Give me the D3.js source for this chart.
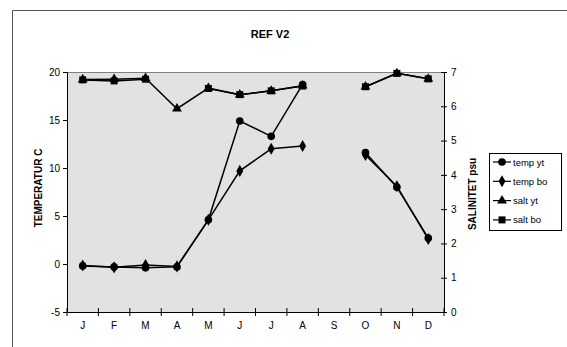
<!DOCTYPE html>
<html><head><meta charset="utf-8">
<script src="https://cdn.jsdelivr.net/npm/d3@7"></script>
<style>body{margin:0;background:#fff}svg{display:block;font-family:"Liberation Sans",Arial,sans-serif}</style>
</head><body><svg id="c" width="567" height="347"></svg>
<script>
const months = ["J","F","M","A","M","J","J","A","S","O","N","D"];
const tempYt = [-0.2,-0.3,-0.4,-0.3,4.6,14.9,13.3,18.7,null,11.6,8.0,2.7];
const tempBo = [-0.15,-0.35,-0.1,-0.25,4.6,9.7,12.0,12.3,null,11.35,8.1,2.6];
const saltYt = [6.78,6.79,6.82,5.93,6.53,6.34,6.45,6.6,null,6.57,6.96,6.8];
const saltBo = [6.77,6.74,6.79,null,6.52,6.34,6.45,6.59,null,6.57,6.96,6.8];
const leftTicks = [-5,0,5,10,15,20];
const rightTicks = [0,1,2,3,4,5,6,7];
const title = "REF V2";

const svg = d3.select("#c");
const L=67, R=444, T=72, B=312;
svg.append("path").attr("d","M12.5,347 V10.5 H567").attr("fill","none").attr("stroke","#555").attr("stroke-width",1);
svg.append("rect").attr("x",L).attr("y",T).attr("width",R-L).attr("height",B-T).attr("fill","#e2e2e2");
svg.append("line").attr("x1",L).attr("x2",R).attr("y1",T+0.5).attr("y2",T+0.5).attr("stroke","#808080");

const x = d3.scaleBand().domain(d3.range(12)).range([L,R]);
const yL = d3.scaleLinear().domain([-5,20]).range([B,T]);
const yR = d3.scaleLinear().domain([0,7]).range([B,T]);

svg.append("text").attr("x",270).attr("y",38).attr("text-anchor","middle").attr("font-size",11).attr("font-weight","bold").text(title);

const gl = svg.append("g").attr("transform",`translate(${L},0)`)
 .call(d3.axisLeft(yL).tickValues(leftTicks).tickFormat(d=>String(d)).tickSize(4).tickSizeOuter(0).tickPadding(3));
const gr = svg.append("g").attr("transform",`translate(${R},0)`)
 .call(d3.axisRight(yR).tickValues(rightTicks).tickFormat(d=>String(d)).tickSize(3).tickSizeOuter(0).tickPadding(4));
gr.selectAll(".tick line").attr("x1",-3);
const gb = svg.append("g").attr("transform",`translate(0,${B})`)
 .call(d3.axisBottom(x).tickFormat(i=>months[i]).tickSize(0).tickPadding(10));
const bounds = d3.range(13).map(i=>L+i*x.bandwidth());
gb.selectAll(".bt").data(bounds).enter().append("line").attr("x1",d=>d).attr("x2",d=>d).attr("y1",-4).attr("y2",4).attr("stroke","#000");
[gl,gr,gb].forEach(g=>{g.selectAll("text").attr("font-size",10).attr("fill","#000").attr("font-family","Liberation Sans, Arial, sans-serif");g.selectAll("path,line").attr("stroke","#000");});

svg.append("text").attr("transform","translate(42,188) rotate(-90)").attr("text-anchor","middle").attr("font-size",10).attr("font-weight","bold").text("TEMPERATUR C");
svg.append("text").attr("transform","translate(476,194) rotate(-90)").attr("text-anchor","middle").attr("font-size",10).attr("font-weight","bold").text("SALINITET psu");

const cx = i=>x(i)+x.bandwidth()/2;
const sym = {
 circle: d3.symbol().type(d3.symbolCircle).size(46),
 diamond: d3.symbol().type(d3.symbolDiamond).size(42),
 triangle: d3.symbol().type(d3.symbolTriangle).size(42),
 square: d3.symbol().type(d3.symbolSquare).size(49)
};
const series = [
 {name:"temp yt",data:tempYt,y:yL,m:"circle"},
 {name:"temp bo",data:tempBo,y:yL,m:"diamond"},
 {name:"salt yt",data:saltYt,y:yR,m:"triangle"},
 {name:"salt bo",data:saltBo,y:yR,m:"square"}
];
series.forEach(s=>{
 const line = d3.line().defined(d=>d!=null).x((d,i)=>cx(i)).y(d=>s.y(d));
 svg.append("path").attr("d",line(s.data)).attr("fill","none").attr("stroke","#000").attr("stroke-width",1.5);
 svg.append("g").selectAll("path").data(s.data.map((d,i)=>({d,i})).filter(o=>o.d!=null)).enter()
  .append("path").attr("d",sym[s.m]()).attr("transform",o=>`translate(${cx(o.i)},${s.y(o.d)})`).attr("fill","#000");
});

const lg = svg.append("g");
lg.append("rect").attr("x",489.5).attr("y",153.5).attr("width",72).attr("height",77).attr("fill","#fff").attr("stroke","#000");
series.forEach((s,k)=>{
 const yy = 162+k*19.3;
 lg.append("line").attr("x1",493).attr("x2",511).attr("y1",yy).attr("y2",yy).attr("stroke","#000").attr("stroke-width",1.2);
 lg.append("path").attr("d",sym[s.m]()).attr("transform",`translate(502,${yy})`).attr("fill","#000");
 lg.append("text").attr("x",513).attr("y",yy+3.5).attr("font-size",9.5).text(s.name);
});
</script></body></html>
